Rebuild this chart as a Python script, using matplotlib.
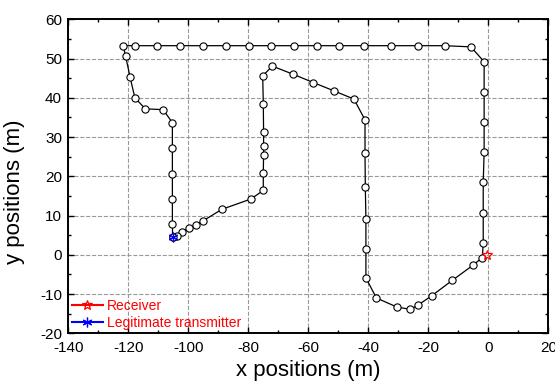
import numpy as np
import matplotlib.pyplot as plt
from matplotlib.ticker import MultipleLocator

plt.rcParams['font.family'] = ['Liberation Sans', 'DejaVu Sans']
plt.rcParams['axes.unicode_minus'] = False

# route of the eavesdropper
path_x = [-105.2, -105.3, -105.3, -105.3, -105.3, -105.3, -108.4, -114.3, -117.8, -119.4,
          -120.9, -121.7, -117.9, -110.3, -102.7, -95.1, -87.5, -79.9, -72.3, -64.7,
          -57.2, -49.7, -41.3, -32.4, -23.5, -14.6, -5.8, -1.4, -1.4, -1.4,
          -1.4, -1.7, -1.7, -1.7, -2.0, -5.2, -12.0, -18.8, -23.4, -26.0,
          -30.5, -37.3, -40.8, -40.8, -40.8, -41.0, -41.1, -41.1, -44.8, -51.5,
          -58.3, -65.0, -72.0, -75.2, -75.0, -74.9, -74.9, -74.9, -75.0, -75.0,
          -79.2, -88.8, -95.2, -97.5, -99.9, -102.0, -103.9, -105.2]
path_y = [4.6, 7.8, 14.2, 20.7, 27.3, 33.7, 37.0, 37.2, 40.0, 45.3,
          50.7, 53.3, 53.3, 53.3, 53.3, 53.3, 53.3, 53.3, 53.3, 53.3,
          53.3, 53.3, 53.3, 53.3, 53.3, 53.3, 53.0, 49.2, 41.5, 33.8,
          26.1, 18.5, 10.7, 3.1, -0.7, -2.7, -6.5, -10.4, -12.8, -13.9,
          -13.3, -11.0, -5.9, 1.6, 9.2, 17.3, 25.9, 34.4, 39.7, 41.8,
          43.9, 46.0, 48.1, 45.6, 38.4, 31.2, 27.7, 25.5, 20.9, 16.4,
          14.2, 11.6, 8.6, 7.7, 6.8, 5.8, 4.9, 4.6]

receiver = (-0.3, -0.1)
transmitter = (-105.2, 4.6)

fig = plt.figure(figsize=(5.55, 3.88), dpi=100)
ax = fig.add_axes([0.123, 0.141, 0.865, 0.809])

ax.plot(path_x, path_y, '-o', color='black', lw=0.9, ms=5.2,
        mfc='white', mec='black', mew=0.8, zorder=3)
ax.plot([receiver[0]], [receiver[1]], '-*', color='red', mfc='none', mec='red',
        ms=7.5, mew=0.9, label='Receiver', zorder=4)
ax.plot([transmitter[0]], [transmitter[1]], '-', color='blue',
        marker=(6, 2, 0), ms=7, mew=0.9, label='Legitimate transmitter', zorder=4)

ax.set_xlim(-140, 20)
ax.set_ylim(-20, 60)
ax.xaxis.set_major_locator(MultipleLocator(20))
ax.xaxis.set_minor_locator(MultipleLocator(10))
ax.yaxis.set_major_locator(MultipleLocator(10))
ax.yaxis.set_minor_locator(MultipleLocator(5))
ax.tick_params(which='both', direction='in', top=True, right=True, labelsize=11)
ax.tick_params(axis='x', which='major', pad=5.5)
ax.tick_params(axis='y', which='major', pad=4.5)
ax.tick_params(which='major', length=4, width=1)
ax.tick_params(which='minor', length=2.5, width=1)
ax.grid(True, which='major', ls='--', color='#999999', lw=0.8)
for s in ax.spines.values():
    s.set_linewidth(1.4)

ax.set_xlabel('x positions (m)', fontsize=16, labelpad=4)
ax.set_ylabel('y positions (m)', fontsize=16, labelpad=6)
ax.yaxis.set_label_coords(-0.09, 0.45)

leg = ax.legend(loc='lower left', frameon=False, fontsize=10, handlelength=2.25,
                handletextpad=0.27, borderaxespad=0.1, labelspacing=0.2,
                borderpad=0.15)
for t in leg.get_texts():
    t.set_color('red')

fig.savefig('out.png', dpi=100)
